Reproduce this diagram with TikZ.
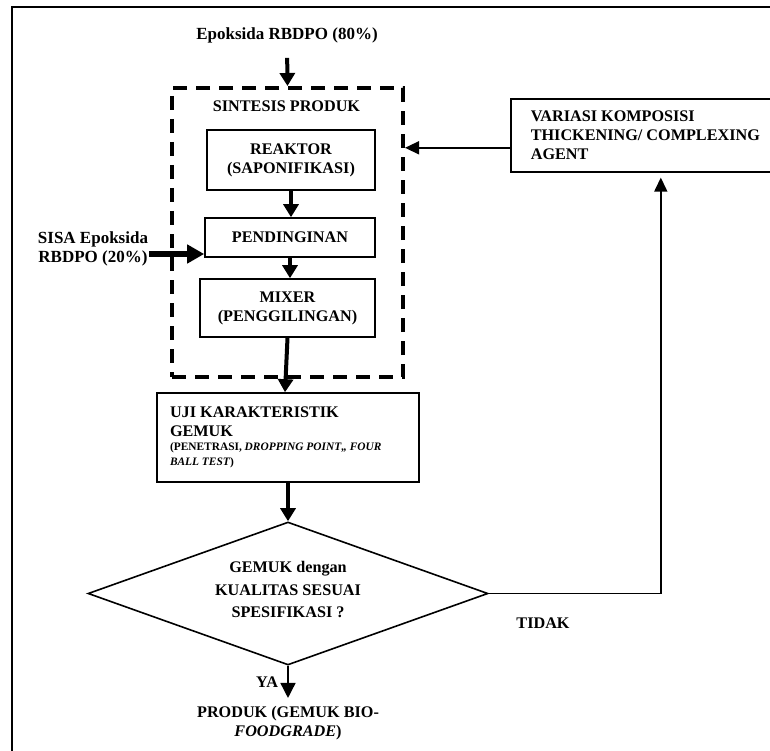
\documentclass[tikz,border=0pt]{standalone}
\usepackage{fontspec}
\setmainfont{Liberation Serif}
\usetikzlibrary{arrows.meta,shapes.geometric,calc}
\begin{document}
\begin{tikzpicture}[x=1pt,y=-1pt,
  txt/.style={font=\fontsize{16.2}{19}\selectfont\bfseries, inner sep=0pt},
  bigtxt/.style={font=\fontsize{17}{19}\selectfont\bfseries, inner sep=0pt},
  procbox/.style={draw, line width=1.6pt, txt, align=center},
  thickarr/.style={line width=4pt, -{Triangle[length=13pt,width=15pt]}},
  thinarr/.style={line width=1.5pt, -{Triangle[length=14pt,width=13pt]}},
]
\useasboundingbox (0,0) rectangle (770,751);
\clip (0,0) rectangle (770,751);
\fill[white] (0,0) rectangle (770,751);
% outer frame
\draw[line width=1.8pt] (12,800) -- (12,7) -- (800,7);

% nodes
\node[bigtxt] (epok) at (287,35) {Epoksida RBDPO (80\%)};
\node[draw, line width=4pt, dash pattern=on 14pt off 9pt, minimum width=231pt, minimum height=289pt, inner sep=0pt] (synth) at (287.5,232.5) {};
\node[txt] (sintlbl) at (286.5,106) {SINTESIS PRODUK};
\node[procbox, minimum width=168pt, minimum height=60pt] (reak) at (291,160) {REAKTOR\\(SAPONIFIKASI)};
\node[procbox, minimum width=170pt, minimum height=39pt] (pend) at (290,237.5) {PENDINGINAN};
\node[procbox, minimum width=175pt, minimum height=58pt] (mix) at (287.5,308) {MIXER\\(PENGGILINGAN)};
\node[bigtxt, align=center] (sisa) at (93,249) {SISA Epoksida\\RBDPO (20\%)};
\node[draw, line width=1.6pt, txt, align=flush left, text width=236pt, inner xsep=13pt, inner ysep=0pt, minimum height=89pt] (uji) at (288,437.5)
  {UJI KARAKTERISTIK\\GEMUK\\[-5pt]{\fontsize{11.4}{15}\selectfont (PENETRASI, \textit{DROPPING POINT,, FOUR}}\\[-4pt]{\fontsize{11.4}{15}\selectfont\textit{BALL TEST})}};
\node[draw, diamond, aspect=2.8, line width=1.6pt, minimum width=400pt, minimum height=143pt, inner sep=0pt,
  label={[txt, align=center, font=\fontsize{16.2}{22.5}\selectfont\bfseries, yshift=4pt]center:{GEMUK dengan\\KUALITAS SESUAI\\SPESIFIKASI ?}}] (dia) at (288,593.5) {};
\node[draw, line width=1.6pt, txt, align=flush left, text width=260pt, inner xsep=20pt, inner ysep=0pt, minimum height=73pt, anchor=north west] (var) at (510,98)
  {VARIASI KOMPOSISI\\THICKENING/ COMPLEXING\\AGENT};
\node[txt] (tidak) at (543,623) {TIDAK};
\node[txt] (ya) at (267,682) {YA};
\node[txt, align=center] (prod) at (288,723) {PRODUK (GEMUK BIO-\\\textit{FOODGRADE})};

% connectors
\draw[thickarr, shorten <=15pt] (epok.south) -- (synth.north);
\draw[thickarr] (reak.south) -- (reak.south |- pend.north);
\draw[thickarr] (pend.south) -- (pend.south |- mix.north);
\draw[thickarr] (mix.south) -- ($(uji.north)+(-3,0)$);
\draw[thickarr] (uji.south) -- (dia.north);
\coordinate (sisaout) at ($(sisa.east)+(1,5)$);
\draw[line width=5.5pt, -{Triangle[length=17pt,width=18pt]}] (sisaout) -- (sisaout -| pend.west);
\coordinate (vin) at ($(var.west)+(0,12.5)$);
\draw[thinarr] (vin) -- (vin -| synth.east);
\draw[thinarr, shorten >=5pt] (dia.east) -| (var.south);
\draw[line width=1.5pt, -{Triangle[length=15pt,width=15pt]}, shorten >=8pt] (dia.south) -- (dia.south |- prod.north);
\end{tikzpicture}
\end{document}
